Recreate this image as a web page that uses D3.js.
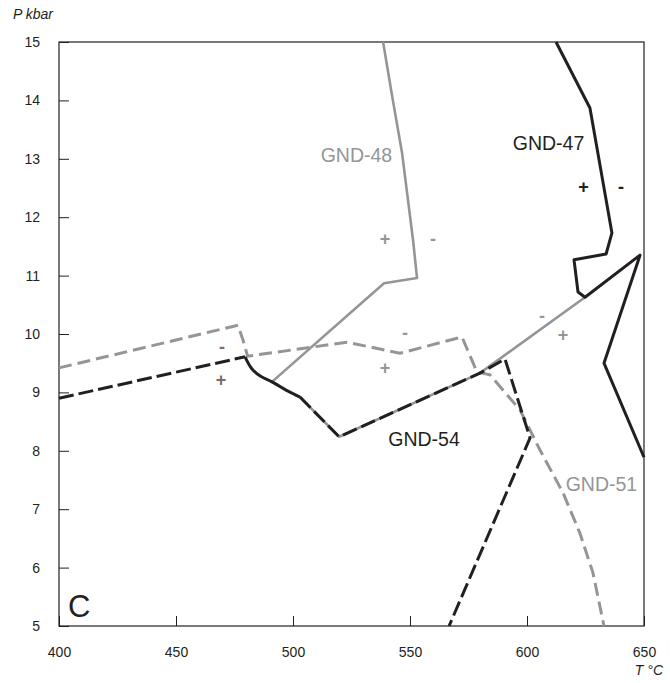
<!DOCTYPE html>
<html>
<head>
<meta charset="utf-8">
<script src="https://cdn.jsdelivr.net/npm/d3@7"></script>
<style>
  html, body { margin: 0; padding: 0; background: #fff; }
  svg { display: block; font-family: "Liberation Sans", Arial, sans-serif; }
</style>
</head>
<body>
<svg id="chart" width="670" height="683"></svg>
<script>
// ---------- data ----------
const xTicks = [400, 450, 500, 550, 600, 650];
const yTicks = [5, 6, 7, 8, 9, 10, 11, 12, 13, 14, 15];

// GND-47 (black solid) [T °C, P kbar]
const gnd47 = [[612.4, 15], [626.9, 13.87], [636.3, 11.73], [633.8, 11.37], [620.1, 11.27],
  [621.8, 10.72], [624.8, 10.63], [648.3, 11.35], [632.9, 9.5], [650, 7.89]];

// GND-48 (grey solid)
const gnd48 = [[538.5, 15], [542.3, 14.09], [546.6, 13.1], [551.3, 11.61], [553.0, 10.96],
  [538.9, 10.87], [491.0, 9.18], [503.0, 8.92], [519.7, 8.24], [579.9, 9.33], [624.8, 10.63]];

// GND-51 (grey dashed)
const gnd51 = [[400, 9.42], [476.5, 10.15], [478.6, 9.9], [480.6, 9.62], [523.1, 9.86],
  [545.7, 9.67], [572.2, 9.95], [578.6, 9.35], [584.2, 9.3], [597.0, 8.7], [605.6, 8.01],
  [615.4, 7.28], [622.6, 6.59], [628.2, 5.91], [632.9, 5]];

// GND-54 (black): dashed left, solid bend, dashed rest
const gnd54Left = [[400, 8.9], [479.5, 9.61]];
const gnd54Solid = [[479.5, 9.61], [482.5, 9.4], [486.0, 9.28], [491.0, 9.18], [497.9, 9.02], [503.0, 8.92]];
const gnd54Right = [[503.0, 8.92], [519.7, 8.24], [579.9, 9.33], [590.6, 9.57], [601.3, 8.22], [566.7, 5]];

// curve labels
const curveLabels = [
  { text: "GND-47", T: 609.2, P: 13.15, grey: false },
  { text: "GND-48", T: 527.1, P: 12.95, grey: true },
  { text: "GND-54", T: 556.0, P: 8.08, grey: false },
  { text: "GND-51", T: 631.8, P: 7.31, grey: true }
];

// + / - signs
const signs = [
  { s: "+", T: 624.2, P: 12.52, c: "black" },
  { s: "-", T: 640.2, P: 12.52, c: "black" },
  { s: "+", T: 539.3, P: 11.63, c: "grey" },
  { s: "-", T: 559.8, P: 11.63, c: "grey" },
  { s: "-", T: 547.9, P: 10.03, c: "grey" },
  { s: "+", T: 539.3, P: 9.42, c: "grey" },
  { s: "-", T: 469.7, P: 9.78, c: "brown" },
  { s: "+", T: 469.2, P: 9.21, c: "brown" },
  { s: "-", T: 606.4, P: 10.31, c: "grey" },
  { s: "+", T: 615.4, P: 9.98, c: "grey" }
];

// ---------- drawing ----------
const BLACK = "#231f20", GREY = "#939598", BROWN = "#7d6a64";
const colorOf = { black: BLACK, grey: GREY, brown: BROWN };

const svg = d3.select("#chart");
const pL = 59, pR = 644, pT = 42, pB = 626;

const x = d3.scaleLinear().domain([400, 650]).range([pL, pR]);
const y = d3.scaleLinear().domain([5, 15]).range([pB, pT]);

const line = d3.line().x(d => x(d[0])).y(d => y(d[1]));

// axes (ticks pointing inward)
const xAxis = d3.axisBottom(x).tickValues(xTicks).tickSizeInner(-10).tickSizeOuter(0).tickPadding(21);
const yAxis = d3.axisLeft(y).tickValues(yTicks).tickSizeInner(-10).tickSizeOuter(0).tickPadding(19);

const gx = svg.append("g").attr("transform", `translate(0,${pB})`).call(xAxis);
const gy = svg.append("g").attr("transform", `translate(${pL},0)`).call(yAxis);
[gx, gy].forEach(g => {
  g.select(".domain").remove();
  g.selectAll(".tick line").attr("stroke", BLACK).attr("stroke-width", 1);
  g.selectAll(".tick text").attr("fill", BLACK).style("font-size", "14px")
    .style("font-family", "'Liberation Sans', Arial, sans-serif");
});

// frame
svg.append("rect").attr("x", pL).attr("y", pT)
  .attr("width", pR - pL).attr("height", pB - pT)
  .attr("fill", "none").attr("stroke", BLACK).attr("stroke-width", 1.2);

// grey curves
svg.append("path").datum(gnd48).attr("d", line)
  .attr("fill", "none").attr("stroke", GREY).attr("stroke-width", 2.6).attr("stroke-linejoin", "round");
svg.append("path").datum(gnd51).attr("d", line)
  .attr("fill", "none").attr("stroke", GREY).attr("stroke-width", 3).attr("stroke-dasharray", "13,6");

// black curves
svg.append("path").datum(gnd47).attr("d", line)
  .attr("fill", "none").attr("stroke", BLACK).attr("stroke-width", 3).attr("stroke-linejoin", "round");
svg.append("path").datum(gnd54Left).attr("d", line)
  .attr("fill", "none").attr("stroke", BLACK).attr("stroke-width", 3).attr("stroke-dasharray", "15,5");
svg.append("path").datum(gnd54Solid).attr("d", d3.line().x(d => x(d[0])).y(d => y(d[1])).curve(d3.curveCatmullRom))
  .attr("fill", "none").attr("stroke", BLACK).attr("stroke-width", 3);
svg.append("path").datum(gnd54Right).attr("d", line)
  .attr("fill", "none").attr("stroke", BLACK).attr("stroke-width", 3).attr("stroke-dasharray", "15,5")
  .attr("stroke-linejoin", "miter");

// curve labels
svg.selectAll("text.clabel").data(curveLabels).enter().append("text")
  .attr("class", "clabel")
  .attr("x", d => x(d.T)).attr("y", d => y(d.P))
  .attr("text-anchor", "middle")
  .attr("fill", d => d.grey ? GREY : BLACK)
  .style("font-size", "19.5px")
  .text(d => d.text);

// signs
svg.selectAll("text.sign").data(signs).enter().append("text")
  .attr("class", "sign")
  .attr("x", d => x(d.T)).attr("y", d => y(d.P))
  .attr("text-anchor", "middle").attr("dy", "0.35em")
  .attr("fill", d => colorOf[d.c])
  .style("font-size", "18px").style("font-weight", "bold")
  .text(d => d.s);

// panel letter
svg.append("text").attr("x", x(403.8)).attr("y", y(5.15))
  .attr("fill", BLACK).style("font-size", "31px").text("C");

// axis titles
svg.append("text").attr("x", 13).attr("y", 19)
  .attr("fill", BLACK).style("font-size", "14px").style("font-style", "italic").text("P kbar");
svg.append("text").attr("x", 663).attr("y", 675).attr("text-anchor", "end")
  .attr("fill", BLACK).style("font-size", "14px").style("font-style", "italic").text("T °C");
</script>
</body>
</html>
